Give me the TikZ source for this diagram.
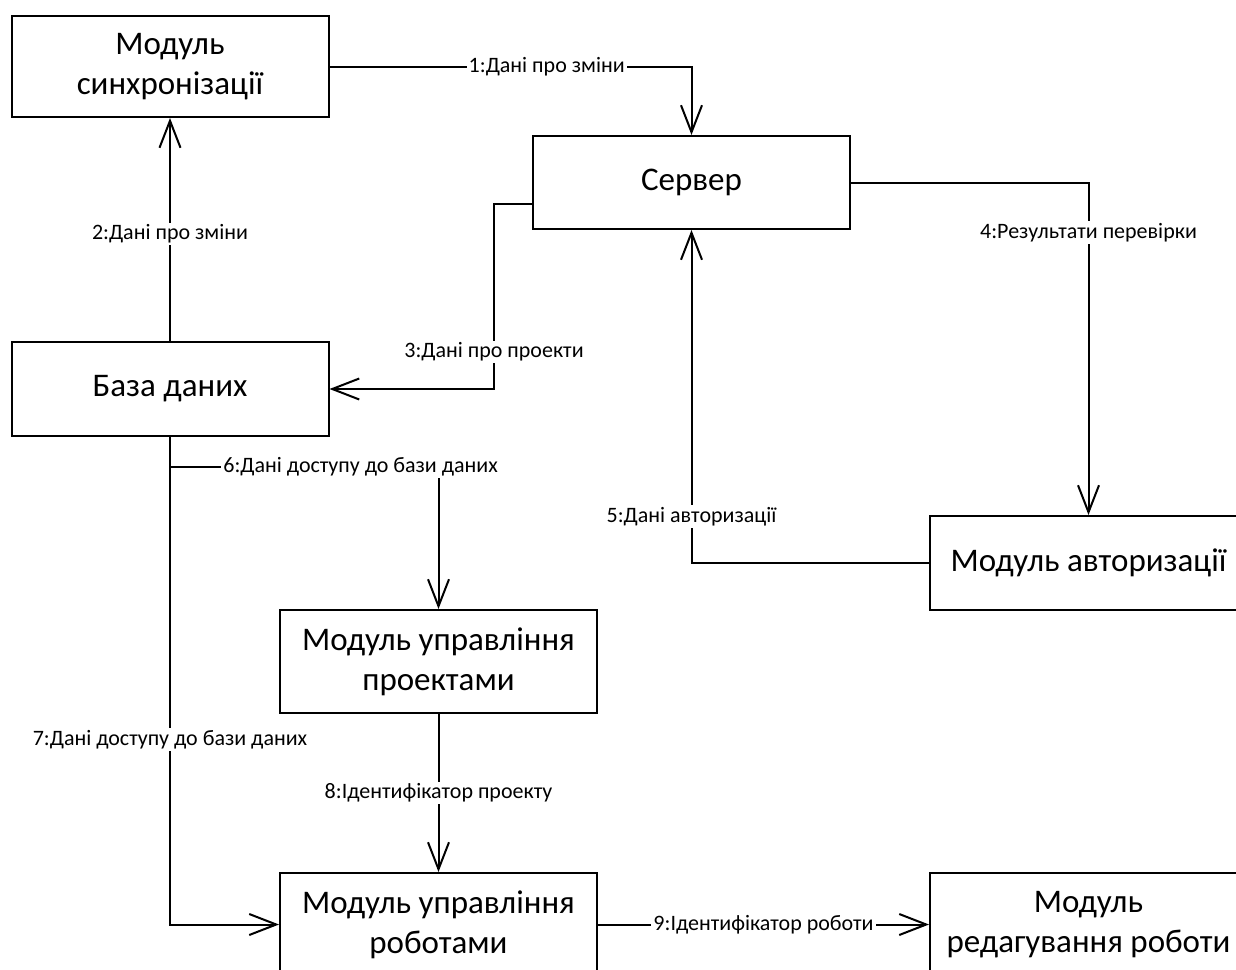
\documentclass[tikz,border=0pt]{standalone}
\usepackage{fontspec}
\setmainfont{Carlito}
\usetikzlibrary{arrows.meta}

\begin{document}
\begin{tikzpicture}[x=1pt,y=-1pt,>={Straight Barb[length=27pt,width=21pt]},line width=2pt,
        module/.style={draw,minimum width=317pt,minimum height=94pt,align=center,inner sep=0pt,font=\fontsize{33}{40}\selectfont},
        msg/.style={fill=white,inner sep=2pt,font=\fontsize{22}{26}\selectfont}]
        \useasboundingbox(0,0)rectangle(1236,969);
        \fill[white](0,0)rectangle(1236,969);
        \clip(0,0)rectangle(1236,969);
        \node[module,minimum height=101pt](sync)at(170,66.5){Модуль\\синхронізації};
        \node[module,minimum height=93pt](server)at(691.5,182.5){Сервер};
        \node[module](db)at(170,389){База даних};
        \node[module](auth)at(1088.5,563){Модуль авторизації};
        \node[module,minimum height=103pt](proj)at(438.5,661.5){Модуль управління\\проектами};
        \node[module,minimum height=103pt](rob)at(438.5,924.5){Модуль управління\\роботами};
        \node[module,minimum height=103pt](edit)at(1088.5,924.5){Модуль\\редагування роботи};
        \draw[->](sync.east)-|node[msg,pos=0.3]{1:Дані про зміни}(server.north);
        \draw[->](db.north)--node[msg,pos=0.48]{2:Дані про зміни}(sync.south);
        \draw[->]([yshift=-21pt]server.west)--++(-38,0)|-node[msg,pos=0.4]{3:Дані про проекти}(db.east);
        \draw[->](server.east)-|node[msg,pos=0.575]{4:Результати перевірки}(auth.north);
        \draw[->](auth.west)-|node[msg,pos=0.57]{5:Дані авторизації}(server.south);
        \draw[->](db.south)--++(0,30)-|node[msg,pos=0.355]{6:Дані доступу до бази даних}(proj.north);
        \draw[->](db.south)|-node[msg,pos=0.31]{7:Дані доступу до бази даних}(rob.west);
        \draw[->](proj.south)--node[msg]{8:Ідентифікатор проекту}(rob.north);
        \draw[->](rob.east)--node[msg]{9:Ідентифікатор роботи}(edit.west);
    \end{tikzpicture}
\end{document}
